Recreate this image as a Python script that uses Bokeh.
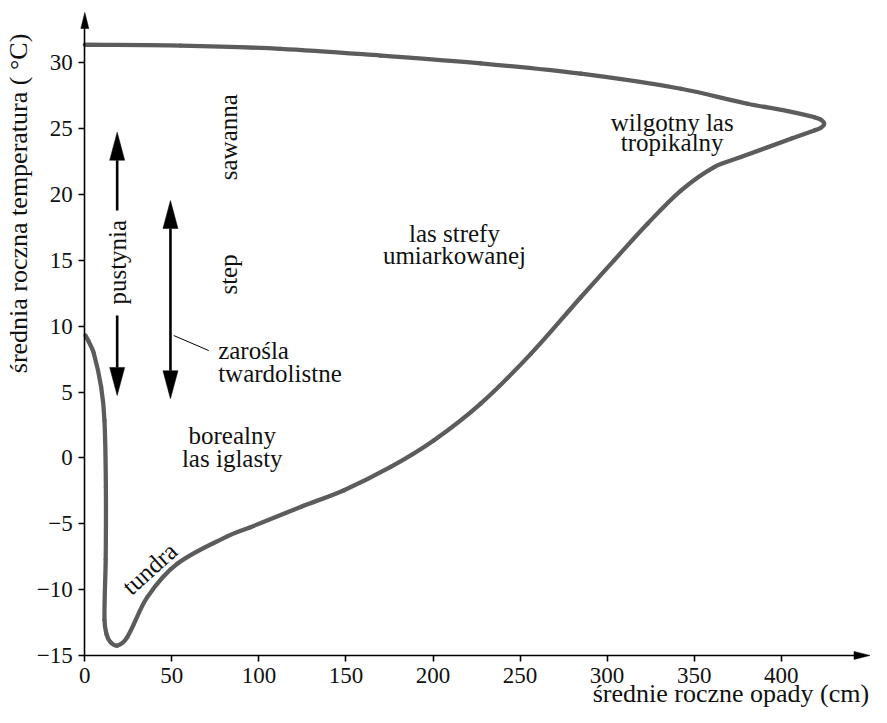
import math
from bokeh.plotting import figure
from bokeh.models import Range1d, FixedTicker
from bokeh.core.properties import value
from bokeh.embed import file_html
from bokeh.resources import INLINE

# ---- boundary of the biome region (precipitation cm, temperature C) ----
boundary_x = [0, 55, 112.5, 170, 227.4, 284.9, 342.4, 380.7, 403.8, 419, 422.6, 424.7,
              422.6, 419, 405.6, 376.8, 361.5, 342.4, 323.2, 304, 284.9, 256.2, 227.4,
              200.6, 175.7, 148.9, 124, 95.2, 81.8, 53.1, 35.9, 24.4, 18.8, 14.8,
              12.5, 11.3, 12.0, 12.1, 11.3, 9.4, 5.2, 2.0, 0.4]
boundary_y = [31.37, 31.31, 31.06, 30.55, 29.96, 29.17, 28.03, 26.89, 26.33, 25.87, 25.7, 25.37,
              25.05, 24.86, 24.23, 22.84, 22.08, 20.3, 17.78, 15.0, 12.2, 7.9, 4.12,
              1.34, -0.69, -2.45, -3.72, -5.26, -5.96, -8.04, -10.57, -13.6, -14.25, -14.0,
              -13.4, -12.3, -7.7, -2.2, 2.84, 5.37, 7.93, 8.9, 9.3]

x_ticks = [0, 50, 100, 150, 200, 250, 300, 350, 400]
x_tick_labels = ["0", "50", "100", "150", "200", "250", "300", "350", "400"]
y_ticks = [-15, -10, -5, 0, 5, 10, 15, 20, 25, 30]
y_tick_labels = ["\u221215", "\u221210", "\u22125", "0", "5", "10", "15", "20", "25", "30"]

x_label_text = ["średnie roczne opady (cm)"]
x_label_x = [450.5]
x_label_y = [-17.89]
y_label_text = ["średnia roczna temperatura ( °C)"]
y_label_x = [-38.1]
y_label_y = [19.32]

# horizontal region labels (one entry per text line)
center_lines = ["las strefy", "umiarkowanej", "wilgotny las", "tropikalny", "borealny", "las iglasty"]
center_x = [212.3, 212.3, 337.4, 337.4, 84.7, 84.7]
center_y = [17.02, 15.37, 25.49, 23.97, 1.70, -0.07]

left_lines = ["zarośla", "twardolistne"]
left_x = [76.6, 76.6]
left_y = [8.15, 6.39]

vertical_labels = ["sawanna", "step", "pustynia"]
vertical_x = [82.7, 82.7, 18.6]
vertical_y = [24.35, 13.93, 14.86]

tundra_label = ["tundra"]
tundra_x = [37.2]
tundra_y = [-8.4]
tundra_angle_deg = 42

# double-headed range arrows: pustynia, step
arrow_x = [18.6, 49.2]
arrow_low = [4.74, 4.49]
arrow_high = [24.73, 19.54]
pustynia_gap = [10.81, 18.79]

leader_x = [51.1, 71.2]
leader_y = [9.29, 8.15]

# axis ends (arrow tips)
x_axis_tip = 451.0
y_axis_tip = 33.82

# ---- layout: the frame covers the whole canvas, axes are placed at fixed locations ----
W, H = 871, 707
ORIGIN_PX_X = 84.3      # canvas px of x = 0
PX_PER_X = 1.741
Y30_PX = 62.3           # canvas px (from top) of y = 30
PX_PER_Y = 13.17
X0 = -ORIGIN_PX_X / PX_PER_X
X1 = (W - ORIGIN_PX_X) / PX_PER_X
Y1 = 30 + Y30_PX / PX_PER_Y
Y0 = 30 - (H - Y30_PX) / PX_PER_Y

FONT = "Liberation Serif"
CURVE = "#5c5c5c"
INK = "#111111"

p = figure(width=W, height=H, output_backend="svg", toolbar_location=None,
           x_range=Range1d(X0, X1), y_range=Range1d(Y0, Y1),
           min_border_left=0, min_border_right=0, min_border_top=0, min_border_bottom=0)
p.outline_line_color = None
p.grid.visible = False
p.background_fill_color = "white"
p.border_fill_color = "white"

hl, hw = 16, 4   # axis arrow head length / half-width in px
p.xaxis.fixed_location = -15
p.yaxis.fixed_location = 0
p.xaxis.bounds = (0, x_axis_tip - 0.5 * hl / PX_PER_X)
p.yaxis.bounds = (-15, y_axis_tip - 0.5 * hl / PX_PER_Y)

for ax, ticks, labels, standoff in ((p.xaxis[0], x_ticks, x_tick_labels, 7),
                                    (p.yaxis[0], y_ticks, y_tick_labels, 6)):
    ax.ticker = FixedTicker(ticks=ticks)
    ax.major_label_overrides = {t: l for t, l in zip(ticks, labels)}
    ax.axis_line_color = "black"
    ax.axis_line_width = 1.6
    ax.major_tick_line_color = "black"
    ax.major_tick_line_width = 1.6
    ax.major_tick_out = 6
    ax.major_tick_in = 0
    ax.minor_tick_line_color = None
    ax.major_label_text_font = FONT
    ax.major_label_text_font_size = "23px"
    ax.major_label_text_color = INK
    ax.major_label_standoff = standoff

# axis arrowheads
axis_head_xs = [[0, -hw / PX_PER_X, hw / PX_PER_X],
                [x_axis_tip, x_axis_tip - hl / PX_PER_X, x_axis_tip - hl / PX_PER_X]]
axis_head_ys = [[y_axis_tip, y_axis_tip - hl / PX_PER_Y, y_axis_tip - hl / PX_PER_Y],
                [-15, -15 + hw / PX_PER_Y, -15 - hw / PX_PER_Y]]
p.patches(axis_head_xs, axis_head_ys, fill_color="black", line_color="black", line_width=0.5)

# boundary curve: smooth cubic Bezier pieces through the read points
# (Catmull-Rom tangents with chord-length parametrisation, computed in pixel space)
n = len(boundary_x)
PX = [x * PX_PER_X for x in boundary_x]
PY = [y * PX_PER_Y for y in boundary_y]
t = [0.0]
for i in range(1, n):
    t.append(t[-1] + max(math.hypot(PX[i] - PX[i - 1], PY[i] - PY[i - 1]), 1e-6))
mx, my = [], []
for i in range(n):
    a, b = max(i - 1, 0), min(i + 1, n - 1)
    dt = t[b] - t[a]
    mx.append((PX[b] - PX[a]) / dt)
    my.append((PY[b] - PY[a]) / dt)
bx0, by0, bx1, by1, c0x, c0y, c1x, c1y = [], [], [], [], [], [], [], []
for i in range(n - 1):
    h = (t[i + 1] - t[i]) / 3
    bx0.append(boundary_x[i]); by0.append(boundary_y[i])
    bx1.append(boundary_x[i + 1]); by1.append(boundary_y[i + 1])
    c0x.append((PX[i] + mx[i] * h) / PX_PER_X)
    c0y.append((PY[i] + my[i] * h) / PX_PER_Y)
    c1x.append((PX[i + 1] - mx[i + 1] * h) / PX_PER_X)
    c1y.append((PY[i + 1] - my[i + 1] * h) / PX_PER_Y)
p.bezier(x0=bx0, y0=by0, x1=bx1, y1=by1, cx0=c0x, cy0=c0y, cx1=c1x, cy1=c1y,
         line_color=CURVE, line_width=4.3, line_cap="round")

# range arrows
AHL, AHW = 28, 7.5
dy = AHL / PX_PER_Y
dx = AHW / PX_PER_X
seg_x0 = [arrow_x[0], arrow_x[0], arrow_x[1]]
seg_y0 = [arrow_low[0] + dy, pustynia_gap[1], arrow_low[1] + dy]
seg_x1 = [arrow_x[0], arrow_x[0], arrow_x[1]]
seg_y1 = [pustynia_gap[0], arrow_high[0] - dy, arrow_high[1] - dy]
p.segment(seg_x0, seg_y0, seg_x1, seg_y1, line_color="black", line_width=2.6)

head_xs, head_ys = [], []
for ax_, lo, hi in zip(arrow_x, arrow_low, arrow_high):
    head_xs.append([ax_, ax_ - dx, ax_ + dx]); head_ys.append([hi, hi - dy, hi - dy])
    head_xs.append([ax_, ax_ - dx, ax_ + dx]); head_ys.append([lo, lo + dy, lo + dy])
p.patches(head_xs, head_ys, fill_color="black", line_color="black", line_width=0.5)

# leader line for "zarośla twardolistne"
p.line(leader_x, leader_y, line_color="black", line_width=1)

# texts
TS = "25px"
p.text(center_x, center_y, text=center_lines, text_font=value(FONT), text_font_size=TS,
       text_align="center", text_baseline="middle", text_color=INK)
p.text(left_x, left_y, text=left_lines, text_font=value(FONT), text_font_size=TS,
       text_align="left", text_baseline="middle", text_color=INK)
p.text(vertical_x, vertical_y, text=vertical_labels, text_font=value(FONT), text_font_size=TS,
       text_align="center", text_baseline="middle", angle=math.pi / 2, text_color=INK)
p.text(tundra_x, tundra_y, text=tundra_label, text_font=value(FONT), text_font_size=TS,
       text_align="center", text_baseline="middle", angle=math.radians(tundra_angle_deg),
       text_color=INK)

# axis titles
p.text(x_label_x, x_label_y, text=x_label_text, text_font=value(FONT), text_font_size="26px",
       text_align="right", text_baseline="middle", text_color=INK)
p.text(y_label_x, y_label_y, text=y_label_text, text_font=value(FONT), text_font_size="26px",
       text_align="center", text_baseline="middle", angle=math.pi / 2, text_color=INK)

open("out.html", "w").write(file_html(p, INLINE))
